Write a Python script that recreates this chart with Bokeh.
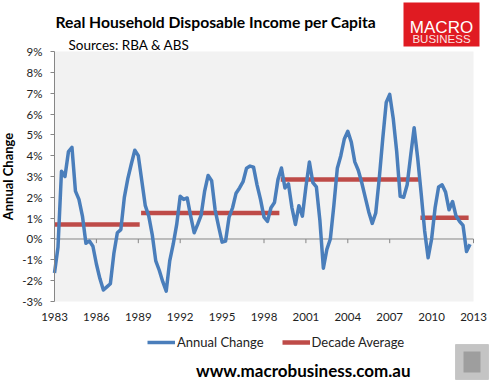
from bokeh.plotting import figure
from bokeh.models import (Label, Legend, LegendItem, FixedTicker, ColumnDataSource,
                          BoxAnnotation)
from bokeh.embed import file_html
from bokeh.resources import INLINE

# ---------------- data ----------------
first_quarter = 1983.0
annual_change = [
    -1.63, -0.40, 3.25, 3.00,    # 1983
    4.20, 4.40, 2.30, 1.90,      # 1984
    1.10, -0.20, -0.10, -0.35,   # 1985
    -1.20, -1.90, -2.45, -2.30,  # 1986
    -2.15, -0.70, 0.30, 0.45,    # 1987
    2.00, 2.90, 3.60, 4.26,      # 1988
    4.00, 2.80, 1.60, 1.10,      # 1989
    0.20, -1.05, -1.50, -2.05,   # 1990
    -2.50, -1.05, -0.25, 0.70,   # 1991
    2.05, 1.90, 1.97, 1.10,      # 1992
    0.30, 0.70, 1.15, 2.30,      # 1993
    3.05, 2.80, 1.40, 0.60,      # 1994
    -0.15, -0.10, 1.05, 1.50,    # 1995
    2.20, 2.45, 2.75, 3.40,      # 1996
    3.50, 3.45, 2.60, 1.90,      # 1997
    1.05, 0.85, 1.50, 1.75,      # 1998
    2.85, 3.41, 2.45, 2.65,      # 1999
    1.50, 0.70, 1.60, 1.10,      # 2000
    2.50, 3.70, 2.70, 2.50,      # 2001
    0.90, -1.40, -0.50, 0.00,    # 2002
    1.60, 3.40, 4.00, 4.80,      # 2003
    5.17, 4.65, 3.70, 3.30,      # 2004
    2.70, 2.00, 1.30, 0.75,      # 2005
    1.25, 2.90, 4.80, 6.55,      # 2006
    6.94, 5.80, 4.20, 2.05,      # 2007
    2.00, 2.60, 4.00, 5.34,      # 2008
    3.90, 2.20, 0.40, -0.90,     # 2009
    0.00, 1.50, 2.50, 2.60,      # 2010
    2.25, 1.40, 1.80, 1.10,      # 2011
    0.85, 0.65, -0.60, -0.25,    # 2012
]
quarters = [first_quarter + 0.25 * i for i in range(len(annual_change))]

decade_start = [1983.0, 1989.2, 1999.2, 2009.2]
decade_end = [1989.1, 1999.1, 2009.1, 2012.65]
decade_avg = [0.69, 1.25, 2.85, 1.02]

year_ticks = [1983, 1986, 1989, 1992, 1995, 1998, 2001, 2004, 2007, 2010, 2013]
pct_ticks = [-3, -2, -1, 0, 1, 2, 3, 4, 5, 6, 7, 8, 9]

title_text = "Real Household Disposable Income per Capita"
source_text = "Sources: RBA & ABS"
y_label = "Annual Change"
series_names = ["Annual Change", "Decade Average"]
footer_text = "www.macrobusiness.com.au"
logo_words = ["MACRO", "BUSINESS"]

FONT = "Lato"
BLUE = "#4A7EBB"
RED = "#BE4B48"
AXIS = "#868686"

# layout (pixels): the frame spans the whole picture; the plot area sits
# LEFT_PX from its left edge, TOP_PX below its top and ends BOTTOM_PX below it.
FRAME_W, FRAME_H = 489, 381
LEFT_PX, TOP_PX, BOTTOM_PX = 54, 51, 301
PX_PER_YEAR, PX_PER_PCT = 13.967, 20.83

x_lo = year_ticks[0] - LEFT_PX / PX_PER_YEAR
y_lo = pct_ticks[0] - (FRAME_H - BOTTOM_PX) / PX_PER_PCT
p = figure(frame_width=FRAME_W, frame_height=FRAME_H, output_backend="svg",
           toolbar_location=None,
           x_range=(x_lo, x_lo + FRAME_W / PX_PER_YEAR),
           y_range=(y_lo, pct_ticks[-1] + TOP_PX / PX_PER_PCT),
           min_border_left=0, min_border_right=0, min_border_top=0, min_border_bottom=0)
p.background_fill_color = "white"
p.border_fill_color = "white"
p.outline_line_color = None
p.xgrid.grid_line_color = None
p.ygrid.grid_line_color = None

# plot area background
p.add_layout(BoxAnnotation(left=year_ticks[0], right=year_ticks[-1], bottom=pct_ticks[0],
                           top=pct_ticks[-1], fill_color="#F2F2F2", fill_alpha=1,
                           line_color=None, level="underlay"))

# y axis, drawn along the left edge of the plot area
p.yaxis.fixed_location = year_ticks[0]
p.yaxis.ticker = FixedTicker(ticks=pct_ticks)
p.yaxis.bounds = (pct_ticks[0], pct_ticks[-1])
p.yaxis.major_label_overrides = {t: f"{t}%" for t in pct_ticks}
p.yaxis.axis_line_color = AXIS
p.yaxis.major_tick_line_color = AXIS
p.yaxis.major_tick_out = 4
p.yaxis.major_tick_in = 0
p.yaxis.minor_tick_line_color = None
p.yaxis.major_label_standoff = 8
p.yaxis.major_label_text_font = FONT
p.yaxis.major_label_text_font_size = "11.5px"
p.yaxis.major_label_text_color = "#222222"
p.yaxis.axis_label = y_label
p.yaxis.axis_label_standoff = 3
p.yaxis.axis_label_text_font = FONT
p.yaxis.axis_label_text_font_size = "13px"
p.yaxis.axis_label_text_font_style = "bold"
p.yaxis.axis_label_text_color = "black"

# x axis: labels only, drawn along the bottom of the plot area
p.xaxis.fixed_location = pct_ticks[0]
p.xaxis.ticker = FixedTicker(ticks=year_ticks)
p.xaxis.major_label_overrides = {t: str(t) for t in year_ticks}
p.xaxis.axis_line_color = None
p.xaxis.major_tick_line_color = None
p.xaxis.minor_tick_line_color = None
p.xaxis.major_tick_out = 0
p.xaxis.major_tick_in = 0
p.xaxis.major_label_standoff = 12
p.xaxis.major_label_text_font = FONT
p.xaxis.major_label_text_font_size = "11.5px"
p.xaxis.major_label_text_color = "#222222"

# zero line and its tick marks
p.segment(x0=[year_ticks[0]], y0=[0], x1=[year_ticks[-1]], y1=[0], line_color=AXIS, line_width=1)
tick_src = ColumnDataSource(dict(x=year_ticks[1:], y0=[0] * (len(year_ticks) - 1),
                                 y1=[-0.2] * (len(year_ticks) - 1)))
p.segment(x0="x", y0="y0", x1="x", y1="y1", source=tick_src, line_color=AXIS, line_width=1)

# series
dec_src = ColumnDataSource(dict(x0=decade_start, x1=decade_end, y=decade_avg))
r_red = p.segment(x0="x0", y0="y", x1="x1", y1="y", source=dec_src,
                  line_color=RED, line_width=4.5, line_cap="butt")
src = ColumnDataSource(dict(x=quarters, y=annual_change))
r_blue = p.line("x", "y", source=src, line_color=BLUE, line_width=3.5, line_join="round")

# legend (screen units from the frame's bottom-left)
legend = Legend(items=[LegendItem(label=series_names[0], renderers=[r_blue]),
                       LegendItem(label=series_names[1], renderers=[r_red])],
                location=(147, 31), orientation="horizontal",
                glyph_width=28, glyph_height=14, label_standoff=2, spacing=18,
                padding=0, margin=0, border_line_color=None, background_fill_alpha=0,
                label_text_font=FONT, label_text_font_size="13px",
                label_text_color="#222222")
p.add_layout(legend, "center")


def label(x, y, text, **kw):
    p.add_layout(Label(x=x, y=y, x_units="screen", y_units="screen", text=text,
                       text_baseline="alphabetic", **kw))


def box(left, right, top, bottom, **kw):
    p.add_layout(BoxAnnotation(left=left, right=right, top=top, bottom=bottom,
                               left_units="screen", right_units="screen",
                               top_units="screen", bottom_units="screen",
                               fill_alpha=1, **kw))


# header
label(55, 360, title_text, text_font=FONT, text_font_size="15.7px", text_font_style="bold",
      text_color="black")
label(68, 337, source_text, text_font=FONT, text_font_size="13.5px", text_color="black")

# logo
box(403, 479, 379, 335, fill_color="#E01B22", line_color=None)
label(441, 354, logo_words[0], text_font="Liberation Sans", text_font_size="17px",
      text_color="white", text_align="center")
label(441, 342.5, logo_words[1], text_font="Liberation Sans", text_font_size="11.5px",
      text_color="#FBE3E3", text_align="center")

# footer
label(410, 11, footer_text, text_font=FONT, text_font_size="17px", text_font_style="bold",
      text_color="black", text_align="right")
box(455, 488, 37, 2, fill_color="#C4C4C4", line_color="#8C8C8C")
box(463, 480, 30, 9, fill_color="#9E9E9E", line_color=None)

open("out.html", "w").write(file_html(p, INLINE))
